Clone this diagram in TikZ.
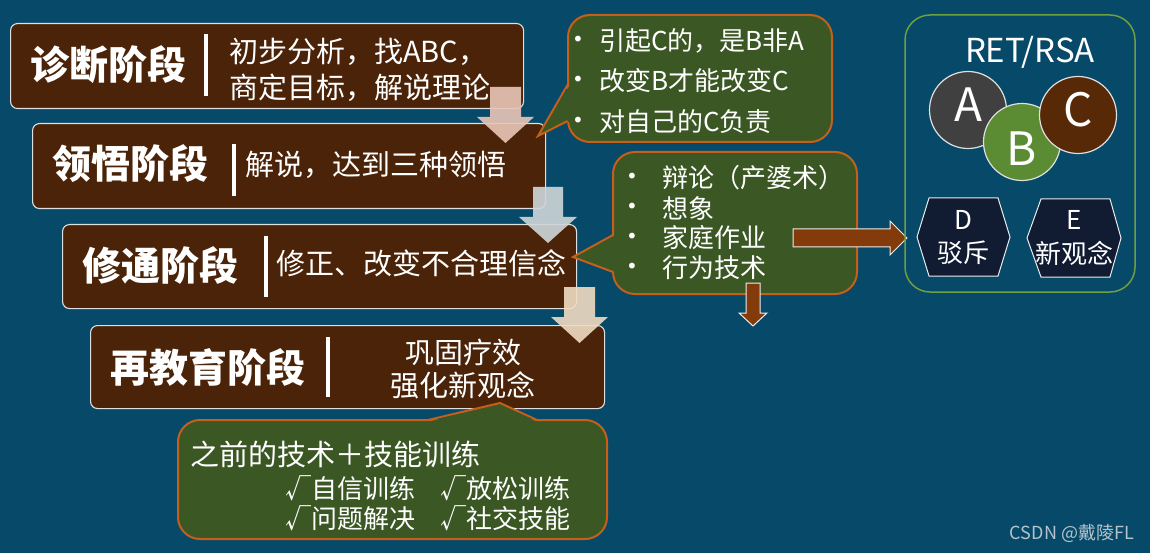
\documentclass[tikz,border=0pt]{standalone}
\usepackage{fontspec}
\setmainfont{Noto Sans CJK SC}
\newfontfamily\bulletfont{DejaVu Sans}
\definecolor{bgblue}{HTML}{074968}
\definecolor{boxbrown}{HTML}{4A2308}
\definecolor{callgreen}{HTML}{3B5724}
\definecolor{callorange}{HTML}{C55F19}
\definecolor{arrbrown}{HTML}{843B0C}
\definecolor{pinkarr}{HTML}{EAC6B8}
\definecolor{grayarr}{HTML}{CFD7DB}
\definecolor{peacharr}{HTML}{F0DCC2}
\definecolor{grpgreen}{HTML}{6FA040}
\definecolor{circA}{HTML}{404040}
\definecolor{circB}{HTML}{5B8B32}
\definecolor{circC}{HTML}{582906}
\definecolor{hexfill}{HTML}{111B32}
\definecolor{wmgray}{HTML}{B5C3CC}
\begin{document}
\begin{tikzpicture}[x=1pt,y=-1pt,
 stagebox/.style={draw=white!88!black, line width=1.1pt, fill=boxbrown, rounded corners=7pt, anchor=north west, inner sep=0pt},
 stagetitle/.style={text=white, font=\fontsize{39}{39}\selectfont\bfseries, inner sep=0pt},
 stagebar/.style={white, line width=4.5pt},
 stagetext/.style={text=white, font=\fontsize{29}{29}\selectfont, inner sep=0pt},
 calltext/.style={text=white, font=\fontsize{26}{26}\selectfont, inner sep=0pt, anchor=west},
 callbullet/.style={text=white, font=\bulletfont\fontsize{20}{20}\selectfont, inner sep=0pt},
 callbody/.style={fill=callgreen, draw=callorange, line width=2pt, rounded corners=22pt},
 callptr/.style={draw=callorange, line width=2pt, line join=miter},
 palearrow/.style={opacity=0.9},
 brownarrow/.style={fill=arrbrown, draw=white!85!gray, line width=1pt},
 abc/.style={circle, minimum size=77pt, draw=white!75!gray, line width=1.2pt, inner sep=0pt},
 abcletter/.style={text=white, font=\fontsize{46}{46}\selectfont, inner sep=0pt},
 hexshape/.style={fill=hexfill, draw=white!85!gray, line width=1pt},
 hextext/.style={text=white, font=\fontsize{26}{26}\selectfont, inner sep=0pt}
]
\fill[bgblue] (0,0) rectangle (1150,553);
\useasboundingbox (0,0) rectangle (1150,553);

% ---- stage boxes ----
\node[stagebox, minimum width=513pt, minimum height=85pt] (s1) at (10,23) {};
\node[stagetitle] (t1) at (108,65) {诊断阶段};
\draw[stagebar] (206,34) -- (206,96);
\node[stagetext, anchor=west] (d1a) at (229,52) {初步分析，找ABC，};
\node[stagetext, anchor=west] (d1b) at (229,88) {商定目标，解说理论};

\node[stagebox, minimum width=513pt, minimum height=85pt] (s2) at (32,123) {};
\node[stagetitle] (t2) at (130,164) {领悟阶段};
\draw[stagebar] (234,144) -- (234,196);
\node[stagetext, anchor=west] (d2) at (245,165) {解说，达到三种领悟};

\node[stagebox, minimum width=514pt, minimum height=84pt] (s3) at (62,224) {};
\node[stagetitle] (t3) at (160,265) {修通阶段};
\draw[stagebar] (266,236) -- (266,297);
\node[stagetext, anchor=west] (d3) at (276,263) {修正、改变不合理信念};

\node[stagebox, minimum width=514pt, minimum height=83pt] (s4) at (90,325) {};
\node[stagetitle] (t4) at (208,367) {再教育阶段};
\draw[stagebar] (328,337) -- (328,397);
\node[stagetext] (d4a) at (463,352) {巩固疗效};
\node[stagetext] (d4b) at (463,385) {强化新观念};

% ---- pale down arrows ----
\fill[pinkarr, palearrow] (490,87) -- (521,87) -- (521,117) -- (534,117) -- (505.5,143) -- (477,117) -- (490,117) -- cycle;
\fill[grayarr, palearrow] (533,187) -- (563,187) -- (563,217) -- (577,217) -- (548,243) -- (519,217) -- (533,217) -- cycle;
\fill[peacharr, palearrow] (564,287) -- (595,287) -- (595,317) -- (608,317) -- (579.5,343) -- (551,317) -- (564,317) -- cycle;

% ---- callout 1 ----
\path[callbody] (568,15) rectangle (832,142);
\fill[callgreen] (570,85) -- (538,136) -- (570,121) -- cycle;
\draw[callptr] (567.5,85) -- (538,136) -- (567.5,121);
\node[callbullet] (b1a) at (578,41) {•};
\node[calltext] (c1a) at (599,41) {引起C的，是B非A};
\node[callbullet] (b1b) at (578,81) {•};
\node[calltext] (c1b) at (599,81) {改变B才能改变C};
\node[callbullet] (b1c) at (578,122) {•};
\node[calltext] (c1c) at (599,122) {对自己的C负责};

% ---- callout 2 ----
\path[callbody] (613,152) rectangle (857,294);
\fill[callgreen] (615.5,235) -- (573,257) -- (615.5,272) -- cycle;
\draw[callptr] (613,235) -- (573,257) -- (613,272);
\node[callbullet] (b2a) at (632,178) {•};
\node[calltext] (c2a) at (662,178) {辩论（产婆术）};
\node[callbullet] (b2b) at (632,208) {•};
\node[calltext] (c2b) at (662,208) {想象};
\node[callbullet] (b2c) at (632,238) {•};
\node[calltext] (c2c) at (662,238) {家庭作业};
\node[callbullet] (b2d) at (632,268) {•};
\node[calltext] (c2d) at (662,268) {行为技术};

% ---- brown arrows ----
\draw[brownarrow] (793,229) -- (890,229) -- (890,221) -- (907,238) -- (890,255) -- (890,247) -- (793,247) -- cycle;
\draw[brownarrow] (746,283) -- (760,283) -- (760,313) -- (767,313) -- (753,326) -- (739,313) -- (746,313) -- cycle;

% ---- bottom callout ----
\path[callbody] (178,420) rectangle (607,539);
\fill[callgreen] (428,422) -- (500,403) -- (537,422) -- cycle;
\draw[callptr] (428,420) -- (500,403) -- (537,420);
\node[stagetext, anchor=west] (c3a) at (190,454) {之前的技术＋技能训练};
\node[calltext] (c3b) at (285,488) {√自信训练};
\node[calltext] (c3c) at (440,488) {√放松训练};
\node[calltext] (c3d) at (285,518) {√问题解决};
\node[calltext] (c3e) at (440,518) {√社交技能};

% ---- RET/RSA group ----
\draw[grpgreen, line width=1.5pt, rounded corners=25pt] (905,15) rectangle (1135,292);
\node[text=white, font=\fontsize{33}{33}\selectfont, inner sep=0pt] (ret) at (1030,52) {RET/RSA};
\node[abc, fill=circA] (cA) at (968,110) {};
\node[abcletter] (lA) at (968,105) {A};
\node[abc, fill=circB] (cB) at (1022,142) {};
\node[abcletter] (lB) at (1022,149) {B};
\node[abc, fill=circC] (cC) at (1078,115) {};
\node[abcletter] (lC) at (1078,110) {C};

\draw[hexshape] (917,237) -- (929,198) -- (998,198) -- (1010,237) -- (998,276) -- (929,276) -- cycle;
\node[hextext] (hD1) at (963,220) {D};
\node[hextext] (hD2) at (963,253) {驳斥};
\draw[hexshape] (1027,238) -- (1041,199) -- (1110,199) -- (1121,238) -- (1110,277) -- (1041,277) -- cycle;
\node[hextext] (hE1) at (1074,220) {E};
\node[hextext] (hE2) at (1074,253) {新观念};

% ---- watermark ----
\node[anchor=east, text=wmgray, font=\fontsize{18}{18}\selectfont, inner sep=0pt] (wm) at (1134,533) {CSDN @戴陵FL};
\end{tikzpicture}
\end{document}
